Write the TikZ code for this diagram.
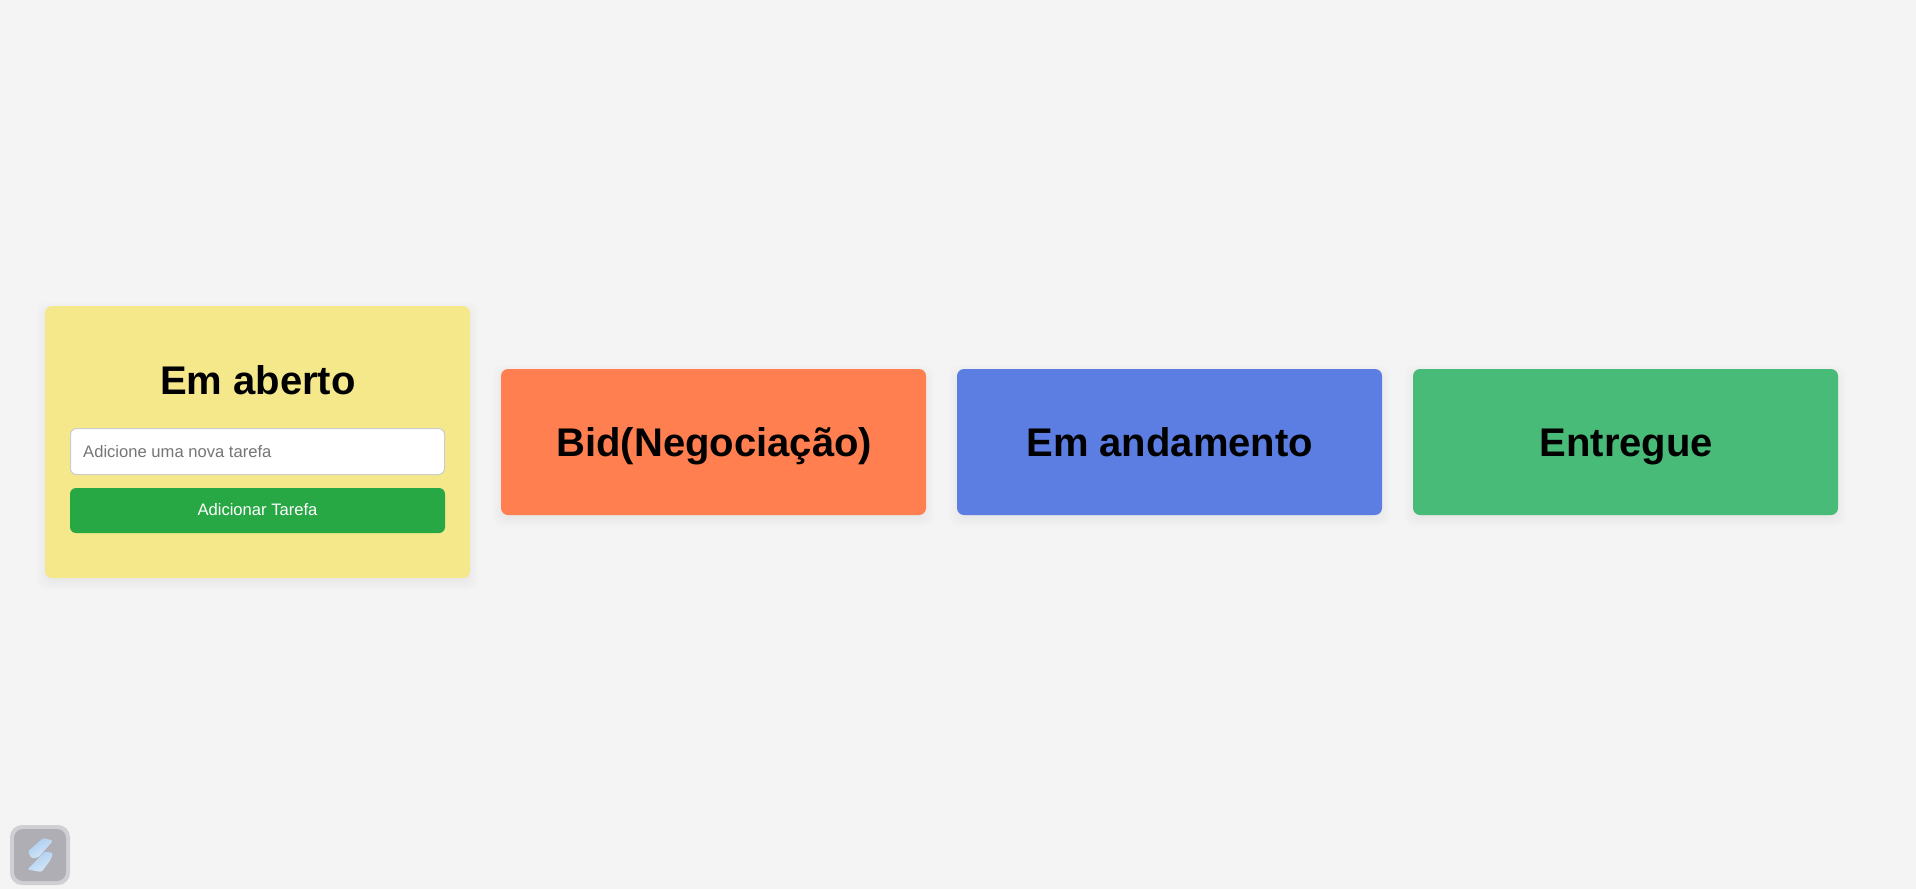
\documentclass[tikz,border=0pt]{standalone}
\usepackage{fontspec}
\setmainfont{Liberation Sans}
\definecolor{pagegray}{RGB}{244,244,244}
\definecolor{openyellow}{RGB}{245,232,139}
\definecolor{bidorange}{RGB}{255,127,80}
\definecolor{workblue}{RGB}{92,125,225}
\definecolor{doneGreen}{RGB}{72,187,120}
\definecolor{addgreen}{RGB}{40,167,69}
\definecolor{hintgray}{RGB}{117,117,117}
\definecolor{fieldgray}{RGB}{204,204,204}
\definecolor{badgering}{RGB}{208,208,212}
\definecolor{badgegray}{RGB}{174,174,180}
\definecolor{iconblue}{RGB}{170,205,240}
\definecolor{iconpale}{RGB}{215,232,248}
\tikzset{
  card/.style={fill=#1, rounded corners=7pt, inner sep=0pt, minimum width=425pt, text height=29pt, text depth=0pt, font=\bfseries\fontsize{40}{48}\selectfont},
  cardtext/.style={anchor=base, inner sep=0pt, font=\bfseries\fontsize{40}{48}\selectfont},
  formtext/.style={anchor=base, inner sep=0pt, font=\fontsize{16.6}{19}\selectfont},
  iconbar/.style={left color=iconblue, right color=iconpale, shading angle=30, rounded corners=1.5pt},
}

\begin{document}
\begin{tikzpicture}[x=1pt,y=-1pt]

  % Page
  \fill[pagegray] (0,0) rectangle (1916,889);

  % Card shadows
  \foreach \xa/\ya/\xb/\yb in {45/306/470/578, 501/369/926/515, 957/369/1382/515, 1413/369/1838/515}
    \foreach \s in {8,6,4,2,0,-2,-4}
      \fill[black, opacity=0.006, rounded corners=9pt] (\xa-\s,\ya+4-\s) rectangle (\xb+\s,\yb+4+\s);

  % Cards
  \node[card=openyellow, minimum height=272pt] (open) at (257.5,442) {};
  \node[card=bidorange, minimum height=146pt] (bid) at (713.5,442) {\hspace{1.5pt}Bid(Negociação)};
  \node[card=workblue, minimum height=146pt] (work) at (1169.5,442) {\hspace{.5pt}Em andamento};
  \node[card=doneGreen, minimum height=146pt] (done) at (1625.5,442) {\hspace{1.5pt}Entregue};

  % Form in the first card
  \node[cardtext] (opentitle) at (258,394) {Em aberto};
  \node[draw=fieldgray, line width=1pt, fill=white, rounded corners=6pt, inner sep=0pt, minimum width=374pt, minimum height=46pt] (field) at (257.5,451.5) {};
  \node[formtext, text=hintgray] (hint) at ([xshift=13pt]field.west |- 0,457) [anchor=base west] {Adicione uma nova tarefa};
  \node[fill=addgreen, rounded corners=6pt, inner sep=0pt, minimum width=375pt, minimum height=45pt] (add) at (257.5,510.5) {};
  \node[formtext, text=white] (addtext) at (257.5,515) {Adicionar Tarefa};

  % Badge
  \fill[badgering, rounded corners=12pt] (10,825) rectangle (70,885);
  \fill[badgegray, rounded corners=9pt] (14,829) rectangle (66,881);
  \shade[iconbar] (43,838) -- (53,840.5) -- (39,857) -- (31.5,858.5) -- (28,851.5) -- cycle;
  \shade[iconbar] (45,851.5) -- (53,853) -- (50.5,860) -- (41.5,872) -- (27.5,869.5) -- cycle;

\end{tikzpicture}
\end{document}
